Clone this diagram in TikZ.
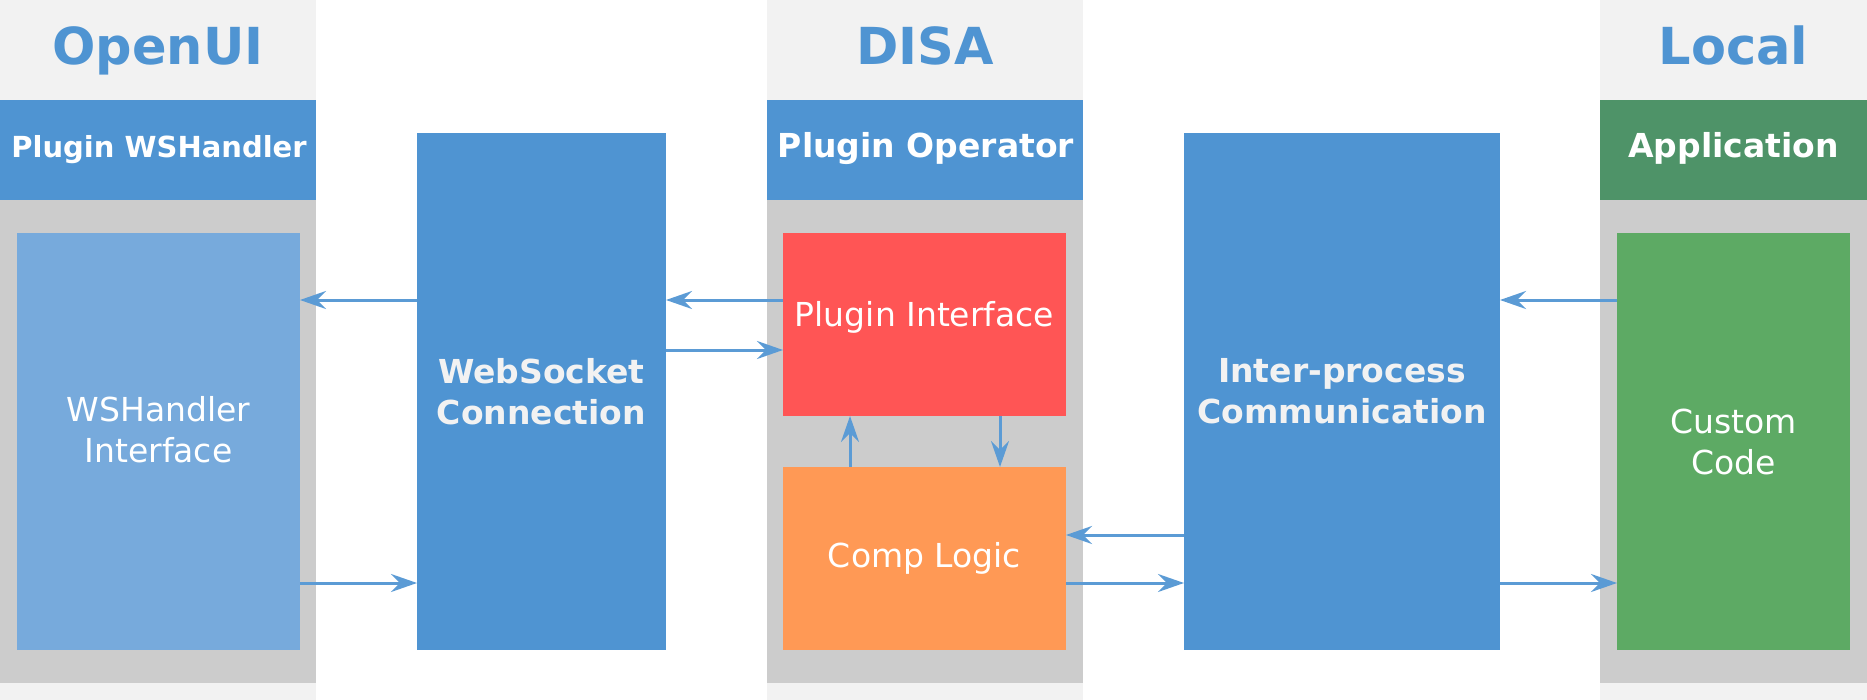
\documentclass[tikz,border=0pt]{standalone}
\usepackage{fontspec}
\setmainfont{DejaVu Sans}
\usepackage{xcolor}
\usetikzlibrary{arrows.meta}

\definecolor{paneback}{HTML}{F2F2F2}
\definecolor{panebody}{HTML}{CCCCCC}
\definecolor{disablue}{HTML}{4F94D2}
\definecolor{lightblue}{HTML}{77AADC}
\definecolor{plugred}{HTML}{FF5555}
\definecolor{logicorange}{HTML}{FF9955}
\definecolor{appgreen}{HTML}{4E9368}
\definecolor{codegreen}{HTML}{5DAA64}
\definecolor{flowblue}{HTML}{5B9BD5}

\tikzset{
    block/.style={anchor=north west},
    coltitle/.style={anchor=base, text=disablue, font=\fontsize{25.5pt}{30pt}\selectfont\bfseries},
    headtext/.style={anchor=base, text=white, font=\fontsize{16.5pt}{20pt}\selectfont\bfseries},
    boxtext/.style={text=white, align=center, font=\fontsize{16.5pt}{20.5pt}\selectfont},
    bigboxtext/.style={text=paneback, align=center, font=\fontsize{16.5pt}{20.5pt}\selectfont\bfseries},
    flow/.style={color=flowblue, line width=1.5pt},
    flowtip/.style={-{Stealth[length=13pt, width=9pt, inset=4.5pt, fill=flowblue]}}
}

\begin{document}
\begin{tikzpicture}[x=0.5pt, y=-0.5pt, every node/.style={inner sep=0pt, outer sep=0pt}]
    \useasboundingbox (0, 0) rectangle (1867, 700);

    % columns
    \node[block, minimum width=158pt, minimum height=350pt, fill=paneback] (openui) at (0, 0) {};
    \node[block, minimum width=158pt, minimum height=350pt, fill=paneback] (disa) at (767, 0) {};
    \node[block, minimum width=133.5pt, minimum height=350pt, fill=paneback] (local) at (1600, 0) {};

    \node[block, minimum width=158pt, minimum height=50pt, fill=disablue] (wshhead) at (0, 100) {};
    \node[block, minimum width=158pt, minimum height=50pt, fill=disablue] (ophead) at (767, 100) {};
    \node[block, minimum width=133.5pt, minimum height=50pt, fill=appgreen] (apphead) at (1600, 100) {};

    \node[block, minimum width=158pt, minimum height=241.5pt, fill=panebody] (wshbody) at (0, 200) {};
    \node[block, minimum width=158pt, minimum height=241.5pt, fill=panebody] (opbody) at (767, 200) {};
    \node[block, minimum width=133.5pt, minimum height=241.5pt, fill=panebody] (appbody) at (1600, 200) {};

    \node[coltitle] (openuititle) at (158, 65) {OpenUI};
    \node[coltitle] (disatitle) at (925, 65) {DISA};
    \node[coltitle] (localtitle) at (1733.5, 65) {Local};

    \node[headtext, font=\fontsize{14.5pt}{18pt}\selectfont\bfseries] (wshname) at (159, 158) {Plugin WSHandler};
    \node[headtext] (opname) at (926, 158) {Plugin Operator};
    \node[headtext] (appname) at (1733.5, 158) {Application};

    % boxes
    \node[block, minimum width=141.5pt, minimum height=208.5pt, fill=lightblue, boxtext, text depth=12pt] (wsh) at (17, 233) {WSHandler\\Interface};
    \node[block, minimum width=124.5pt, minimum height=258.5pt, fill=disablue, bigboxtext] (ws) at (417, 133) {WebSocket\\Connection};
    \node[block, minimum width=141.5pt, minimum height=91.5pt, fill=plugred, boxtext, text depth=11pt] (pi) at (783, 233) {Plugin Interface};
    \node[block, minimum width=141.5pt, minimum height=91.5pt, fill=logicorange, boxtext] (cl) at (783, 467) {Comp Logic};
    \node[block, minimum width=158pt, minimum height=258.5pt, fill=disablue, bigboxtext] (ipc) at (1184, 133) {Inter-process\\Communication};
    \node[block, minimum width=116.5pt, minimum height=208.5pt, fill=codegreen, boxtext] (cc) at (1617, 233) {Custom\\Code};

    \draw[flow]
    (ws.west |- 0, 300) edge[flowtip] (wsh.east |- 0, 300)
    (pi.west |- 0, 300) edge[flowtip] (ws.east |- 0, 300)
    (cc.west |- 0, 300) edge[flowtip] (ipc.east |- 0, 300)
    (ws.east |- 0, 350) edge[flowtip] (pi.west |- 0, 350)
    (ipc.west |- 0, 535) edge[flowtip] (cl.east |- 0, 535)
    (wsh.east |- 0, 583) edge[flowtip] (ws.west |- 0, 583)
    (cl.east |- 0, 583) edge[flowtip] (ipc.west |- 0, 583)
    (ipc.east |- 0, 583) edge[flowtip] (cc.west |- 0, 583)
    (cl.north -| 850, 0) edge[flowtip] (pi.south -| 850, 0)
    (pi.south -| 1000, 0) edge[flowtip] (cl.north -| 1000, 0);
\end{tikzpicture}
\end{document}
